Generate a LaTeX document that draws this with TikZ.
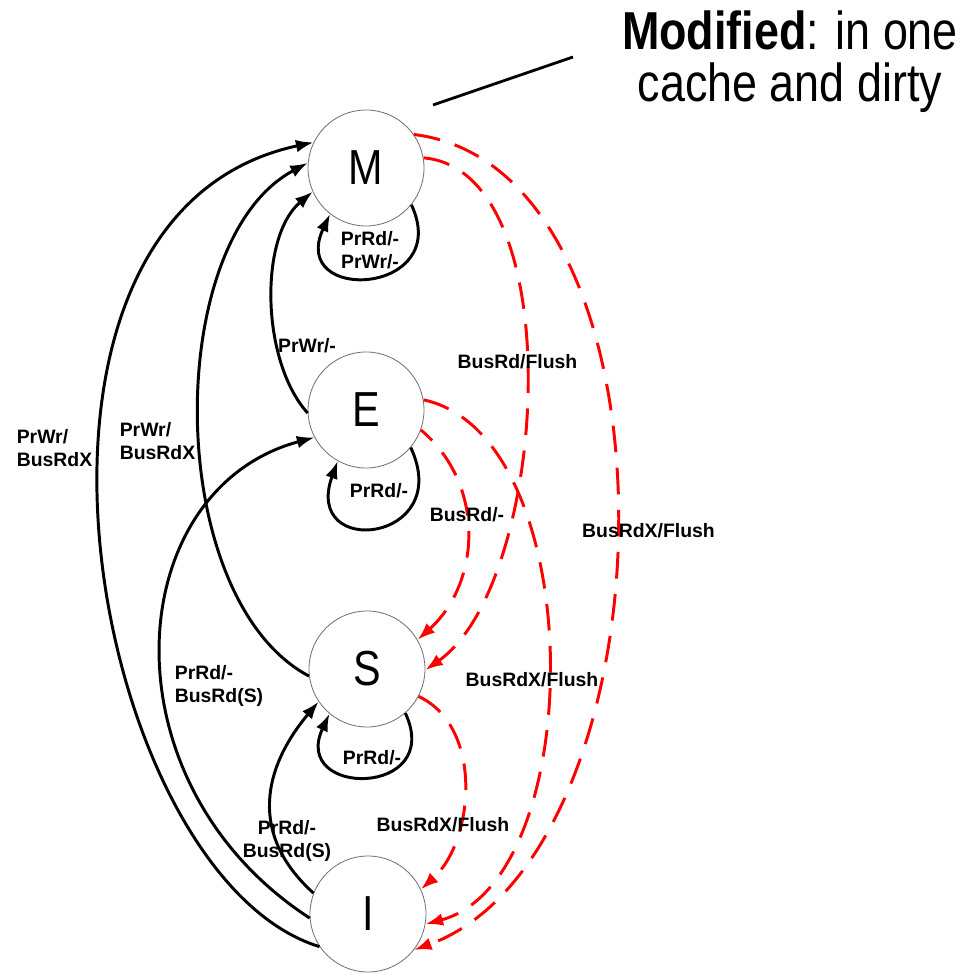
\documentclass[tikz,border=0pt]{standalone}
\usepackage{fontspec}
\setmainfont{Liberation Sans}
\newfontfamily\narrowsf[FakeStretch=0.84]{Liberation Sans}
\usetikzlibrary{arrows.meta}

\begin{document}
\begin{tikzpicture}[x=2.5cm, y=2.5cm,
    cstate/.style={circle, draw=black!55, line width=0.6pt, minimum size=2.9cm, inner sep=0pt, font=\fontsize{35}{40}\selectfont\narrowsf},
    trans/.style={line width=2.1pt, -{Latex[length=12.5pt, width=9pt]}},
    bus/.style={trans, red, dash pattern=on 19pt off 11pt},
    lbl/.style={font=\fontsize{13.8}{16}\selectfont\bfseries, inner sep=0pt}]
  \useasboundingbox (0,0) rectangle (9.78,-9.75);

  \node[cstate] (M) at (3.66,-1.68) {M};
  \node[cstate] (E) at (3.66,-4.10) {E};
  \node[cstate] (S) at (3.67,-6.69) {S};
  \node[cstate] (I) at (3.68,-9.14) {I};

  % processor requests
  \draw[trans] (I.214) .. controls +(163:2.4) and +(192:3.5) .. (M.154);
  \draw[trans] (S.187) .. controls +(152:1.65) and +(208:1.65) .. (M.175);
  \draw[trans] (E.183) .. controls +(132:0.7) and +(220:0.7) .. (M.204);
  \draw[trans] (I.184) .. controls +(147:2.5) and +(195:2.0) .. (E.208);
  \draw[trans] (I.159) .. controls +(138:0.87) and +(230:0.87) .. (S.214);
  \draw[trans] (M.-39) .. controls +(-65:1.0) and +(-115:1.0) .. (M.-128);
  \draw[trans] (E.-40) .. controls +(-65:1.05) and +(-110:1.05) .. (E.-119);
  \draw[trans] (S.-49) .. controls +(-65:0.93) and +(-115:0.93) .. (S.-130);

  % snooped bus transactions
  \draw[bus] (M.10) .. controls +(-5:1.5) and +(35:1.5) .. (S.-1);
  \draw[bus] (M.35) .. controls +(-7:2.8) and +(20:2.8) .. (I.-38);
  \draw[bus] (E.10) .. controls +(-12:1.7) and +(15:1.7) .. (I.-10);
  \draw[bus, dash phase=8pt] (E.-20) .. controls +(-40:0.85) and +(42:0.85) .. (S.30);
  \draw[bus] (S.-28) .. controls +(-25:0.72) and +(42:0.72) .. (I.25);

  \node[lbl, align=left] (wrI) at (0.545,-4.48) {PrWr/\\BusRdX};
  \node[lbl, align=left] (wrS) at (1.575,-4.41) {PrWr/\\BusRdX};
  \node[lbl] (wrE) at (3.07,-3.46) {PrWr/-};
  \node[lbl, align=left] (rdIE) at (2.19,-6.86) {PrRd/-\\BusRd(S)};
  \node[lbl, align=center] (rdIS) at (2.87,-8.41) {PrRd/-\\BusRd(S)};
  \node[lbl, align=center] (loopM) at (3.70,-2.50) {PrRd/-\\PrWr/-};
  \node[lbl] (loopE) at (3.79,-4.91) {PrRd/-};
  \node[lbl] (loopS) at (3.72,-7.58) {PrRd/-};
  \node[lbl] (flMS) at (5.175,-3.62) {BusRd/Flush};
  \node[lbl] (rdES) at (4.67,-5.15) {BusRd/-};
  \node[lbl] (flMI) at (6.485,-5.31) {BusRdX/Flush};
  \node[lbl] (flEI) at (5.32,-6.80) {BusRdX/Flush};
  \node[lbl] (flSI) at (4.43,-8.25) {BusRdX/Flush};

  \node[font=\fontsize{38}{37}\selectfont\narrowsf, align=center, inner sep=0pt] (note) at (7.90,-0.62) {\textbf{Modified}: in one\\cache and dirty};
  \coordinate (ptr) at (5.73,-0.57);
  \coordinate (mtop) at (4.33,-1.05);
  \draw[line width=2pt] (ptr) -- (mtop);
\end{tikzpicture}
\end{document}
